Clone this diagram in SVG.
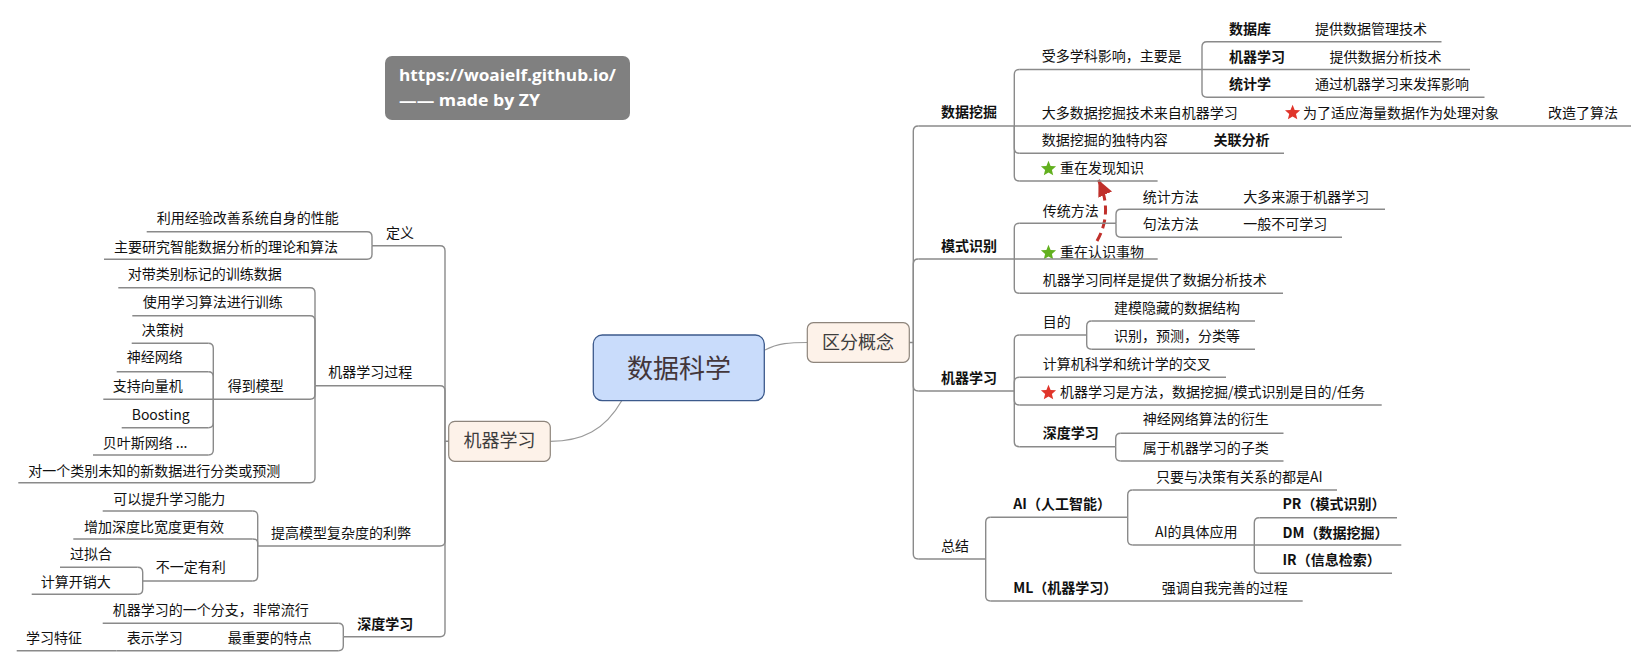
<svg xmlns="http://www.w3.org/2000/svg" xmlns:xlink="http://www.w3.org/1999/xlink" width="1648" height="667" viewBox="0 0 1648 667">
<style>
.t{font-family:"Noto Sans CJK SC","Noto Sans",sans-serif;font-size:14px;fill:#111}
.b{font-weight:bold}
.u{stroke:#8a8a8a;stroke-width:1.4;fill:none}
.c{stroke:#8a8a8a;stroke-width:1.4;fill:none}
.cv{stroke:#9a9a9a;stroke-width:1.2;fill:none}
.node{fill:#fdf2e9;stroke:#8e857c;stroke-width:1.2}
.nt{font-family:"Noto Sans CJK SC","Noto Sans",sans-serif;font-size:18px;fill:#3d3d3d;text-anchor:middle}
.info{font-family:"Open Sans","Noto Sans",sans-serif;font-size:16px;font-weight:bold;fill:#ffffff}
</style>
<defs>
<path id="star" d="M0,-8 L2.1,-2.9 L7.6,-2.5 L3.4,1.1 L4.7,6.5 L0,3.6 L-4.7,6.5 L-3.4,1.1 L-7.6,-2.5 L-2.1,-2.9 Z"/>
<marker id="arr" viewBox="0 0 16 15" refX="16" refY="7.5" markerWidth="16" markerHeight="15" markerUnits="userSpaceOnUse" orient="auto">
<path d="M0,0 L16,7.5 L0,15 Z" fill="#c0302b"/>
</marker>
</defs>
<rect width="1648" height="667" fill="#ffffff"/>

<g id="connectors">
<path class="cv" d="M765,350 C778,343 790,342.5 807.3,342.5"/>
<path class="cv" d="M621.7,400.7 C605,430 582,441.3 550.3,441.3"/>
<path class="c" d="M909.3,342.5 H913.3 V131 Q913.3,126 918.3,126"/>
<path class="c" d="M913.3,342.5 V264 Q913.3,259 918.3,259"/>
<path class="c" d="M913.3,342.5 V386 Q913.3,391 918.3,391"/>
<path class="c" d="M913.3,342.5 V554 Q913.3,559 918.3,559"/>
<path class="c" d="M1014.3,126 V74.5 Q1014.3,69.5 1019.3,69.5"/>
<path class="c" d="M1014.3,126 V148.3 Q1014.3,153.3 1019.3,153.3"/>
<path class="c" d="M1014.3,126 V176 Q1014.3,181 1019.3,181"/>
<path class="c" d="M1202,69.5 V46.7 Q1202,41.7 1207,41.7"/>
<path class="c" d="M1202,69.5 V92.3 Q1202,97.3 1207,97.3"/>
<path class="c" d="M1014.3,259 V228.3 Q1014.3,223.3 1019.3,223.3"/>
<path class="c" d="M1014.3,259 V288.3 Q1014.3,293.3 1019.3,293.3"/>
<path class="c" d="M1116,223.3 V214.3 Q1116,209.3 1121,209.3"/>
<path class="c" d="M1116,223.3 V232.3 Q1116,237.3 1121,237.3"/>
<path class="c" d="M1014.3,391 V340 Q1014.3,335 1019.3,335"/>
<path class="c" d="M1014.3,391 V382.3 Q1014.3,377.3 1019.3,377.3"/>
<path class="c" d="M1014.3,391 V400 Q1014.3,405 1019.3,405"/>
<path class="c" d="M1014.3,391 V441.7 Q1014.3,446.7 1019.3,446.7"/>
<path class="c" d="M1086.7,335 V326 Q1086.7,321 1091.7,321"/>
<path class="c" d="M1086.7,335 V344.3 Q1086.7,349.3 1091.7,349.3"/>
<path class="c" d="M1115.7,446.7 V438.3 Q1115.7,433.3 1120.7,433.3"/>
<path class="c" d="M1115.7,446.7 V456 Q1115.7,461 1120.7,461"/>
<path class="c" d="M985.7,559 V522.3 Q985.7,517.3 990.7,517.3"/>
<path class="c" d="M985.7,559 V596 Q985.7,601 990.7,601"/>
<path class="c" d="M1127.7,517.3 V495 Q1127.7,490 1132.7,490"/>
<path class="c" d="M1127.7,517.3 V540 Q1127.7,545 1132.7,545"/>
<path class="c" d="M1254.3,545 V522.7 Q1254.3,517.7 1259.3,517.7"/>
<path class="c" d="M1254.3,545 V568.3 Q1254.3,573.3 1259.3,573.3"/>
<path class="c" d="M448.7,441.3 H445 V250.7 Q445,245.7 440,245.7"/>
<path class="c" d="M445,441.3 V390.7 Q445,385.7 440,385.7"/>
<path class="c" d="M445,441.3 V541 Q445,546 440,546"/>
<path class="c" d="M445,441.3 V631.7 Q445,636.7 440,636.7"/>
<path class="c" d="M372,245.7 V236.7 Q372,231.7 367,231.7"/>
<path class="c" d="M372,245.7 V254.3 Q372,259.3 367,259.3"/>
<path class="c" d="M315,385.7 V292.7 Q315,287.7 310,287.7"/>
<path class="c" d="M315,385.7 V320.7 Q315,315.7 310,315.7"/>
<path class="c" d="M315,385.7 V394.3 Q315,399.3 310,399.3"/>
<path class="c" d="M315,385.7 V477.7 Q315,482.7 310,482.7"/>
<path class="c" d="M213.3,399.3 V348.3 Q213.3,343.3 208.3,343.3"/>
<path class="c" d="M213.3,399.3 V376.7 Q213.3,371.7 208.3,371.7"/>
<path class="c" d="M213.3,399.3 V422.7 Q213.3,427.7 208.3,427.7"/>
<path class="c" d="M213.3,399.3 V450 Q213.3,455 208.3,455"/>
<path class="c" d="M257.7,546 V516 Q257.7,511 252.7,511"/>
<path class="c" d="M257.7,546 V543 Q257.7,539 252.7,539"/>
<path class="c" d="M257.7,546 V576 Q257.7,581 252.7,581"/>
<path class="c" d="M142.7,581 V572.3 Q142.7,567.3 137.7,567.3"/>
<path class="c" d="M142.7,581 V589.3 Q142.7,594.3 137.7,594.3"/>
<path class="c" d="M343.3,636.7 V628.3 Q343.3,623.3 338.3,623.3"/>
<path class="c" d="M343.3,636.7 V645.7 Q343.3,650.7 338.3,650.7"/>
<path d="M1097,241 C1106,225 1110,205 1098.5,180" fill="none" stroke="#c0302b" stroke-width="3" stroke-dasharray="9 5" marker-end="url(#arr)"/>
</g>

<g id="info">
<rect x="385" y="56" width="245" height="64" rx="7" fill="#808080"/>
<text class="info" x="399" y="80.5" textLength="217" lengthAdjust="spacingAndGlyphs">https://woaielf.github.io/</text>
<text class="info" x="399" y="105.5" textLength="141" lengthAdjust="spacingAndGlyphs">—— made by ZY</text>
</g>

<g id="central">
<rect x="593.3" y="335" width="171" height="65.7" rx="9" fill="#c9dcfb" stroke="#3c5a8c" stroke-width="1.3"/>
<text x="679" y="377.5" font-family="'Noto Sans CJK SC',sans-serif" font-size="26" fill="#43363a" text-anchor="middle">数据科学</text>
</g>

<g id="n-qufen">
<rect class="node" x="807.3" y="322.7" width="102" height="39.6" rx="6"/>
<text class="nt" x="858" y="348.5">区分概念</text>
</g>

<g id="n-jiqi">
<rect class="node" x="448.7" y="421.3" width="101.6" height="40" rx="6"/>
<text class="nt" x="499.5" y="447">机器学习</text>
</g>

<g id="n-sjwj"><text class="t b" x="941" y="117">数据挖掘</text><path class="u" d="M918.3,126 H1014.3"/></g>
<g id="n-sdxk"><text class="t" x="1041.7" y="61">受多学科影响，主要是</text><path class="u" d="M1019.3,69.5 H1202"/></g>
<g id="n-sjk"><text class="t b" x="1229" y="34">数据库</text><path class="u" d="M1207,41.7 H1300"/></g>
<g id="n-tgsjgl"><text class="t" x="1315" y="34">提供数据管理技术</text><path class="u" d="M1300,41.7 H1441.5"/></g>
<g id="n-jqxx1"><text class="t b" x="1229" y="62">机器学习</text><path class="u" d="M1202,69.5 H1310"/></g>
<g id="n-tgsjfx"><text class="t" x="1329.4" y="62">提供数据分析技术</text><path class="u" d="M1310,69.5 H1470"/></g>
<g id="n-tjx"><text class="t b" x="1229" y="89">统计学</text><path class="u" d="M1207,97.3 H1300"/></g>
<g id="n-tgjq"><text class="t" x="1315" y="89">通过机器学习来发挥影响</text><path class="u" d="M1300,97.3 H1484.5"/></g>
<g id="n-ddsj"><text class="t" x="1041.7" y="117.5">大多数据挖掘技术来自机器学习</text><path class="u" d="M1014.3,126 H1275"/></g>
<g id="n-wlsy"><use xlink:href="#star" x="1292.6" y="112.8" fill="#e0352b"/><text class="t" x="1303" y="117.5">为了适应海量数据作为处理对象</text><path class="u" d="M1275,126 H1530"/></g>
<g id="n-gzsf"><text class="t" x="1548" y="117.5">改造了算法</text><path class="u" d="M1530,126 H1631"/></g>
<g id="n-dtnr"><text class="t" x="1041.7" y="145">数据挖掘的独特内容</text><path class="u" d="M1019.3,153.3 H1195"/></g>
<g id="n-glfx"><text class="t b" x="1213.5" y="145">关联分析</text><path class="u" d="M1195,153.3 H1284"/></g>
<g id="n-fxzs"><use xlink:href="#star" x="1048.5" y="168.8" fill="#62b01f"/><text class="t" x="1060" y="173.3">重在发现知识</text><path class="u" d="M1019.3,181 H1157.6"/></g>

<g id="n-mssb"><text class="t b" x="941" y="251">模式识别</text><path class="u" d="M918.3,259 H1014.3"/></g>
<g id="n-ctff"><text class="t" x="1042.7" y="215.7">传统方法</text><path class="u" d="M1019.3,223.3 H1116"/></g>
<g id="n-tjff"><text class="t" x="1142.7" y="201.7">统计方法</text><path class="u" d="M1121,209.3 H1225"/></g>
<g id="n-ddly"><text class="t" x="1243.3" y="201.7">大多来源于机器学习</text><path class="u" d="M1225,209.3 H1385"/></g>
<g id="n-jfff"><text class="t" x="1142.7" y="229.3">句法方法</text><path class="u" d="M1121,237.3 H1225"/></g>
<g id="n-ybbk"><text class="t" x="1243.3" y="229.3">一般不可学习</text><path class="u" d="M1225,237.3 H1342"/></g>
<g id="n-rssw"><use xlink:href="#star" x="1048.5" y="252.8" fill="#62b01f"/><text class="t" x="1060" y="257.3">重在认识事物</text><path class="u" d="M1014.3,259 H1157.7"/></g>
<g id="n-jqty"><text class="t" x="1042.7" y="285">机器学习同样是提供了数据分析技术</text><path class="u" d="M1019.3,293.3 H1283"/></g>

<g id="n-jqxx2"><text class="t b" x="941" y="383.3">机器学习</text><path class="u" d="M918.3,391 H1014.3"/></g>
<g id="n-md"><text class="t" x="1042.7" y="326.7">目的</text><path class="u" d="M1019.3,335 H1086.7"/></g>
<g id="n-jmyc"><text class="t" x="1114" y="313.3">建模隐藏的数据结构</text><path class="u" d="M1091.7,321 H1255"/></g>
<g id="n-sbyc"><text class="t" x="1114" y="340.7">识别，预测，分类等</text><path class="u" d="M1091.7,349.3 H1255"/></g>
<g id="n-jsjkx"><text class="t" x="1042.7" y="369">计算机科学和统计学的交叉</text><path class="u" d="M1019.3,377.3 H1226"/></g>
<g id="n-jqff"><use xlink:href="#star" x="1048.5" y="392.8" fill="#e0352b"/><text class="t" x="1060" y="397.3">机器学习是方法，数据挖掘/模式识别是目的/任务</text><path class="u" d="M1019.3,405 H1381.7"/></g>
<g id="n-sdxx1"><text class="t b" x="1042.7" y="438">深度学习</text><path class="u" d="M1019.3,446.7 H1115.7"/></g>
<g id="n-sjwl"><text class="t" x="1142.7" y="424.4">神经网络算法的衍生</text><path class="u" d="M1120.7,433.3 H1283.5"/></g>
<g id="n-syjq"><text class="t" x="1142.7" y="453.3">属于机器学习的子类</text><path class="u" d="M1120.7,461 H1283.5"/></g>

<g id="n-zj"><text class="t" x="941" y="551">总结</text><path class="u" d="M918.3,559 H985.7"/></g>
<g id="n-ai"><text class="t b" x="1013.3" y="509">AI（人工智能）</text><path class="u" d="M990.7,517.3 H1127.7"/></g>
<g id="n-zyyjc"><text class="t" x="1156" y="481.7">只要与决策有关系的都是AI</text><path class="u" d="M1132.7,490 H1337"/></g>
<g id="n-aijt"><text class="t" x="1155" y="537.3">AI的具体应用</text><path class="u" d="M1132.7,545 H1254.3"/></g>
<g id="n-pr"><text class="t b" x="1282.5" y="509.3">PR（模式识别）</text><path class="u" d="M1259.3,517.7 H1397"/></g>
<g id="n-dm"><text class="t b" x="1282.5" y="537.7">DM（数据挖掘）</text><path class="u" d="M1254.3,545 H1401.3"/></g>
<g id="n-ir"><text class="t b" x="1282.5" y="565">IR（信息检索）</text><path class="u" d="M1259.3,573.3 H1392"/></g>
<g id="n-ml"><text class="t b" x="1013.3" y="593.3">ML（机器学习）</text><path class="u" d="M990.7,601 H1145"/></g>
<g id="n-qdzw"><text class="t" x="1161.7" y="593.3">强调自我完善的过程</text><path class="u" d="M1145,601 H1302.7"/></g>

<g id="n-dy"><text class="t" x="386" y="238">定义</text><path class="u" d="M372,245.7 H440"/></g>
<g id="n-lyjy"><text class="t" x="156.7" y="223.3">利用经验改善系统自身的性能</text><path class="u" d="M146.7,231.7 H367"/></g>
<g id="n-zyyj"><text class="t" x="114" y="251.7">主要研究智能数据分析的理论和算法</text><path class="u" d="M104,259.3 H367"/></g>
<g id="n-jqgc"><text class="t" x="328.3" y="377.3">机器学习过程</text><path class="u" d="M315,385.7 H440"/></g>
<g id="n-ddlb"><text class="t" x="127.7" y="279">对带类别标记的训练数据</text><path class="u" d="M118.3,287.7 H310"/></g>
<g id="n-syxx"><text class="t" x="142.7" y="307.3">使用学习算法进行训练</text><path class="u" d="M132.3,315.7 H310"/></g>
<g id="n-ddmx"><text class="t" x="227.7" y="391">得到模型</text><path class="u" d="M213.3,399.3 H310"/></g>
<g id="n-jcs"><text class="t" x="141.7" y="335">决策树</text><path class="u" d="M131.7,343.3 H208.3"/></g>
<g id="n-sjwl2"><text class="t" x="126.7" y="362.3">神经网络</text><path class="u" d="M116.7,371.7 H208.3"/></g>
<g id="n-zcxl"><text class="t" x="112.7" y="391">支持向量机</text><path class="u" d="M103.3,399.3 H213.3"/></g>
<g id="n-boost"><text class="t" x="131.7" y="419.5">Boosting</text><path class="u" d="M121.7,427.7 H208.3"/></g>
<g id="n-byes"><text class="t" x="102.7" y="448.3">贝叶斯网络 ...</text><path class="u" d="M93,455 H208.3"/></g>
<g id="n-dygl"><text class="t" x="28.3" y="475.7">对一个类别未知的新数据进行分类或预测</text><path class="u" d="M18.3,482.7 H310"/></g>
<g id="n-tgmx"><text class="t" x="271" y="538.3">提高模型复杂度的利弊</text><path class="u" d="M257.7,546 H440"/></g>
<g id="n-kyts"><text class="t" x="113.3" y="504">可以提升学习能力</text><path class="u" d="M102.7,511 H252.7"/></g>
<g id="n-zjsd"><text class="t" x="84" y="532.3">增加深度比宽度更有效</text><path class="u" d="M73.3,539 H252.7"/></g>
<g id="n-bydy"><text class="t" x="155.7" y="571.7">不一定有利</text><path class="u" d="M142.7,581 H252.7"/></g>
<g id="n-gnh"><text class="t" x="70" y="559.3">过拟合</text><path class="u" d="M60,567.3 H137.7"/></g>
<g id="n-jskx"><text class="t" x="40.7" y="587.3">计算开销大</text><path class="u" d="M31.7,594.3 H137.7"/></g>
<g id="n-sdxx2"><text class="t b" x="357.3" y="629">深度学习</text><path class="u" d="M343.3,636.7 H440"/></g>
<g id="n-jqfz"><text class="t" x="112.7" y="615">机器学习的一个分支，非常流行</text><path class="u" d="M102.7,623.3 H338.3"/></g>
<g id="n-zzy"><text class="t" x="227.7" y="643.3">最重要的特点</text><path class="u" d="M217,650.7 H338.3"/></g>
<g id="n-bsxx"><text class="t" x="126.7" y="643.3">表示学习</text><path class="u" d="M116.7,650.7 H217"/></g>
<g id="n-xxtz"><text class="t" x="26" y="643.3">学习特征</text><path class="u" d="M16.7,650.7 H116.7"/></g>
</svg>
